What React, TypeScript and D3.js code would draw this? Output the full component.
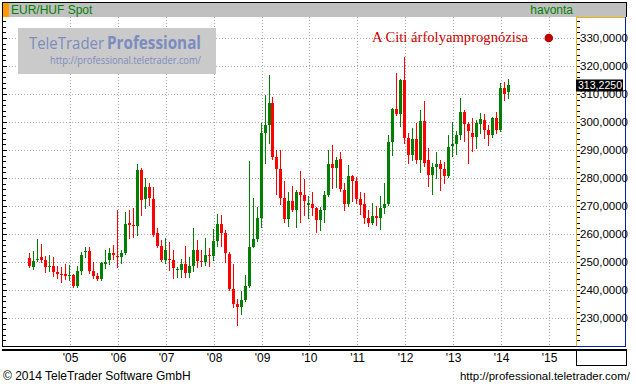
import * as d3 from "d3";

// monthly EUR/HUF candles, first one is March 2004
const firstMonth = new Date(2004, 2, 1);

const opens = [
  251.5, 248.2, 250.8, 251.8, 250.7, 248.2, 248.7, 246.6, 245.7, 245.6,
  245.0, 245.4, 241.5, 246.9, 253.7, 253.9, 246.9, 245.1, 244.1, 249.4, 250.8, 253.2,
  252.3, 251.9, 253.3, 264.0, 263.2, 263.0, 282.9, 272.4, 276.9, 272.4, 260.5, 255.7,
  250.7, 251.0, 250.7, 247.1, 247.1, 249.3, 246.0, 248.6, 254.3, 250.5, 250.1, 252.5,
  252.1, 257.5, 263.6, 260.5, 252.9, 240.2, 235.0, 234.0, 236.4, 241.4, 255.5, 258.1,
  265.7, 296.2, 298.9, 306.7, 287.6, 283.3, 272.7, 265.5, 271.9, 268.6, 275.1, 273.9,
  270.4, 270.7, 269.2, 265.0, 268.6, 273.9, 285.0, 283.7, 286.8, 275.7, 270.7, 280.7,
  278.9, 272.4, 270.7, 265.6, 264.0, 266.4, 265.8, 269.4, 270.7, 293.0, 304.5, 302.9,
  315.0, 294.2, 288.2, 293.8, 286.4, 300.5, 286.4, 281.1, 284.0, 285.0, 283.2, 280.7,
  291.4, 292.1, 295.4, 303.4, 299.3, 296.2, 294.5, 299.3, 300.7, 297.2, 295.4, 301.3,
  297.1, 312.3, 310.8,
];
const highs = [
  253.1, 253.9, 258.2, 256.4, 252.3, 252.5, 251.7, 248.7, 248.2, 249.2,
  249.0, 245.6, 248.5, 253.5, 255.5, 255.5, 249.9, 245.9, 250.1, 254.2, 255.1, 256.1,
  268.6, 254.3, 268.0, 268.6, 269.2, 285.0, 283.5, 279.9, 278.3, 276.9, 262.0, 257.9,
  258.5, 257.3, 254.3, 248.1, 251.1, 255.7, 251.9, 262.0, 257.9, 254.3, 258.5, 255.1,
  261.7, 267.1, 266.8, 261.4, 253.7, 249.3, 236.7, 239.8, 245.4, 286.1, 272.7, 269.5,
  299.5, 309.6, 316.8, 309.0, 290.0, 290.0, 279.0, 275.1, 277.1, 275.7, 282.6, 279.6,
  273.6, 275.0, 269.8, 269.6, 275.5, 290.0, 291.8, 287.6, 289.4, 278.1, 284.6, 281.0,
  280.5, 274.9, 274.5, 268.6, 271.0, 270.0, 273.6, 278.3, 295.4, 304.9, 317.6, 315.2,
  323.3, 296.0, 297.7, 299.8, 304.3, 307.6, 290.6, 285.2, 289.4, 286.4, 285.8, 295.4,
  300.1, 296.9, 308.7, 304.3, 300.1, 301.6, 300.7, 303.3, 302.9, 299.1, 301.9, 303.4,
  313.8, 314.4, 315.2,
];
const lows = [
  248.1, 247.4, 250.5, 250.1, 246.6, 246.8, 245.1, 244.4, 243.0, 243.8,
  243.5, 241.2, 241.0, 245.6, 251.9, 246.0, 244.2, 243.6, 243.6, 248.0, 249.2, 250.9,
  248.3, 249.7, 252.9, 258.5, 258.8, 259.6, 266.8, 269.2, 270.4, 259.4, 255.2, 250.5,
  249.5, 247.1, 244.2, 244.5, 244.8, 244.5, 244.8, 246.9, 248.3, 248.6, 248.9, 248.6,
  250.7, 255.7, 255.7, 250.1, 240.0, 234.0, 227.5, 231.4, 236.2, 241.0, 255.3, 257.6,
  262.4, 285.5, 292.6, 286.7, 274.3, 270.7, 264.4, 262.9, 268.3, 262.4, 264.4, 266.8,
  265.6, 266.8, 260.8, 261.4, 264.4, 273.6, 276.3, 276.9, 275.5, 268.6, 270.0, 271.9,
  271.2, 267.1, 264.0, 262.9, 263.6, 263.2, 261.8, 267.6, 270.4, 288.2, 302.5, 298.6,
  292.6, 285.5, 286.4, 285.2, 282.3, 284.3, 277.1, 274.3, 279.9, 275.7, 278.3, 280.2,
  287.9, 288.6, 293.8, 293.3, 285.2, 289.8, 290.6, 296.0, 294.2, 291.8, 294.5, 296.0,
  296.9, 307.9, 308.5,
];
const closes = [
  248.6, 250.3, 251.2, 250.6, 248.1, 248.7, 246.6, 245.6, 245.3, 245.1,
  245.5, 241.5, 246.9, 252.5, 254.0, 246.8, 245.0, 244.1, 249.6, 250.0, 253.2, 252.5,
  251.8, 253.1, 263.6, 263.3, 262.9, 282.9, 272.1, 276.9, 273.0, 259.6, 255.7, 250.7,
  254.3, 250.7, 247.7, 247.4, 249.3, 246.0, 248.6, 254.3, 250.5, 250.1, 252.5, 252.1,
  257.6, 263.6, 260.5, 253.1, 240.4, 235.0, 234.0, 236.4, 241.4, 255.2, 258.1, 265.7,
  296.2, 298.9, 306.7, 287.6, 283.3, 272.7, 265.5, 271.9, 268.6, 275.1, 273.9, 271.9,
  271.0, 269.4, 265.0, 268.6, 273.9, 285.0, 283.7, 286.4, 276.1, 270.7, 280.7, 278.9,
  272.4, 270.4, 265.6, 264.0, 266.4, 265.8, 269.4, 270.7, 292.7, 304.5, 302.9, 315.0,
  294.2, 288.2, 293.8, 286.4, 300.5, 285.5, 281.1, 284.0, 285.0, 283.2, 280.7, 291.0,
  292.1, 295.4, 303.4, 299.3, 296.9, 294.5, 299.5, 301.0, 297.2, 295.4, 301.3, 297.2,
  312.0, 310.0, 313.225,
];

const yearStarts = [2005, 2006, 2007, 2008, 2009, 2010, 2011, 2012, 2013, 2014, 2015];
const yearLabels = ["'05", "'06", "'07", "'08", "'09", "'10", "'11", "'12", "'13", "'14", "'15"];
const priceTicks = [230, 240, 250, 260, 270, 280, 290, 300, 310, 320, 330];

// Citi forecast point
const forecastMonth = new Date(2015, 0, 1);
const forecastValue = 330;
const forecastLabel = "A Citi árfolyamprognózisa";

const W = 636;
const H = 387;
const plotLeft = 3;
const plotRight = 576;
const plotTop = 17;
const plotBottom = 346;
const axisRight = 626;

const green = "#008000";
const red = "#ff0000";
const font = "'Liberation Sans', Arial, sans-serif";
const logoBlue = "#7b8cc0";

const huf = d3.formatLocale({
  decimal: ",",
  thousands: " ",
  grouping: [3],
  currency: ["", ""],
}).format(".4f");

const origin = new Date(2004, 0, 1);
const monthOf = (d: Date) => d3.timeMonth.count(origin, d);

export default function App() {
  const x = d3.scaleLinear().domain([12, 132]).range([69.5, 548.3]);
  const y = d3.scaleLinear().domain([220, 337.5]).range([plotBottom, plotTop]);

  const candles = closes.map((c, i) => {
    const date = d3.timeMonth.offset(firstMonth, i);
    return { date, o: opens[i], h: highs[i], l: lows[i], c };
  });

  const minorTicks = d3.range(222, 338, 2);
  const lastPrice = closes[closes.length - 1];
  const yearX = (yr: number) => Math.floor(x(monthOf(new Date(yr, 0, 1)))) + 1.5;

  return (
    <svg
      width={W}
      height={H}
      style={{ position: "absolute", left: 0, top: 0, display: "block", background: "#fff" }}
      fontFamily={font}
    >
      {/* header */}
      <rect x={3} y={3} width={axisRight - 3} height={14} fill="#c0c0c0" />
      <rect x={3} y={3} width={6} height={14} fill="#ff9900" />
      <line x1={2} x2={axisRight + 1} y1={2.5} y2={2.5} stroke="#000" />
      <line x1={2.5} x2={2.5} y1={2} y2={plotBottom + 1} stroke="#000" />
      <line x1={axisRight + 0.5} x2={axisRight + 0.5} y1={2} y2={plotTop} stroke="#000" />
      <text x={11} y={14} fontSize={12} fill={green}>EUR/HUF Spot</text>
      <text x={573} y={14} fontSize={12} fill={green} textAnchor="end">havonta</text>

      {/* grid */}
      <g stroke="#a8a8a8" strokeDasharray="1 2" shapeRendering="crispEdges">
        {priceTicks.map((v) => (
          <line key={v} x1={plotLeft} x2={plotRight} y1={Math.round(y(v)) + 0.5} y2={Math.round(y(v)) + 0.5} />
        ))}
        {yearStarts.map((yr) => (
          <line key={yr} x1={yearX(yr)} x2={yearX(yr)} y1={plotTop} y2={plotBottom} />
        ))}
      </g>

      {/* watermark */}
      <rect x={18} y={28} width={198} height={46} fill="#cacaca" />
      <text x={29} y={49} fontSize={17} fill={logoBlue} fontFamily="'Open Sans', sans-serif" textLength={75} lengthAdjust="spacingAndGlyphs">
        TeleTrader
      </text>
      <text x={107} y={49} fontSize={17} fontWeight="bold" fill={logoBlue} fontFamily="'Open Sans', sans-serif" textLength={94} lengthAdjust="spacingAndGlyphs">
        Professional
      </text>
      <text x={50} y={64} fontSize={11} fill={logoBlue} fontFamily="'Open Sans', sans-serif" textLength={151} lengthAdjust="spacingAndGlyphs">
        http://professional.teletrader.com/
      </text>

      {/* legend */}
      <text x={372} y={41.5} fontSize={15} fill="#cc0000" fontFamily="'Liberation Serif', 'Times New Roman', serif" textLength={156} lengthAdjust="spacingAndGlyphs">
        {forecastLabel}
      </text>
      <circle cx={x(monthOf(forecastMonth)) + 0.5} cy={y(forecastValue)} r={4.3} fill="#c00000" />

      {/* candles */}
      <g shapeRendering="crispEdges">
        {candles.map((d, i) => {
          const cx = Math.floor(x(monthOf(d.date)));
          const col = d.c >= d.o ? green : red;
          const top = Math.round(y(Math.max(d.o, d.c)));
          const bot = Math.round(y(Math.min(d.o, d.c)));
          return (
            <g key={i}>
              <line x1={cx + 0.5} x2={cx + 0.5} y1={Math.round(y(d.h))} y2={Math.round(y(d.l)) + 1} stroke={col} />
              <rect x={cx - 1} y={top} width={3} height={Math.max(1, bot - top)} fill={col} />
            </g>
          );
        })}
      </g>

      {/* left axis ticks */}
      <g stroke="#000" shapeRendering="crispEdges">
        {minorTicks.map((v) => (
          <line key={v} x1={3} x2={v % 10 === 0 ? 7 : 6} y1={Math.round(y(v)) + 0.5} y2={Math.round(y(v)) + 0.5} />
        ))}
      </g>

      {/* right axis */}
      <g shapeRendering="crispEdges">
        <line x1={plotRight + 0.5} x2={plotRight + 0.5} y1={plotTop} y2={plotBottom + 1} stroke="#f0b400" />
        <line x1={plotRight} x2={axisRight} y1={plotTop + 0.5} y2={plotTop + 0.5} stroke="#f0b400" />
        <line x1={axisRight - 0.5} x2={axisRight - 0.5} y1={plotTop} y2={plotBottom + 1} stroke="#0020a0" strokeWidth={1.5} />
        <line x1={plotRight} x2={axisRight} y1={plotBottom + 0.5} y2={plotBottom + 0.5} stroke="#0020a0" strokeWidth={1.5} />
        {minorTicks.map((v) => (
          <line key={v} x1={plotRight + 1} x2={plotRight + 4} y1={Math.round(y(v)) + 0.5} y2={Math.round(y(v)) + 0.5} stroke="#000" />
        ))}
      </g>
      {priceTicks.map((v) => (
        <text key={v} x={580} y={y(v) + 4} fontSize={11.5} fill="#000">{huf(v)}</text>
      ))}
      <rect x={576} y={Math.round(y(lastPrice)) - 5.5} width={47} height={12} fill="#000" />
      <text x={578} y={Math.round(y(lastPrice)) + 4} fontSize={11.5} fill="#fff" textLength={44} lengthAdjust="spacingAndGlyphs">{huf(lastPrice)}</text>

      {/* x axis band */}
      <g stroke="#000" shapeRendering="crispEdges">
        <line x1={2} x2={plotRight} y1={plotBottom + 0.5} y2={plotBottom + 0.5} />
        <line x1={2} x2={axisRight + 1} y1={349.5} y2={349.5} strokeWidth={2} />
        <line x1={plotRight + 0.5} x2={plotRight + 0.5} y1={349} y2={366} />
        <line x1={axisRight + 0.5} x2={axisRight + 0.5} y1={349} y2={366} />
        <line x1={plotRight} x2={axisRight + 1} y1={365.5} y2={365.5} />
      </g>
      {yearStarts.map((yr, i) => (
        <text key={yr} x={yearX(yr)} y={362} fontSize={12} textAnchor="middle" fill="#000">
          {yearLabels[i]}
        </text>
      ))}

      {/* footer */}
      <text x={3} y={380} fontSize={12} fill="#000">© 2014 TeleTrader Software GmbH</text>
      <text x={630} y={380} fontSize={11.5} fill="#000" textAnchor="end">http://professional.teletrader.com/</text>
    </svg>
  );
}
